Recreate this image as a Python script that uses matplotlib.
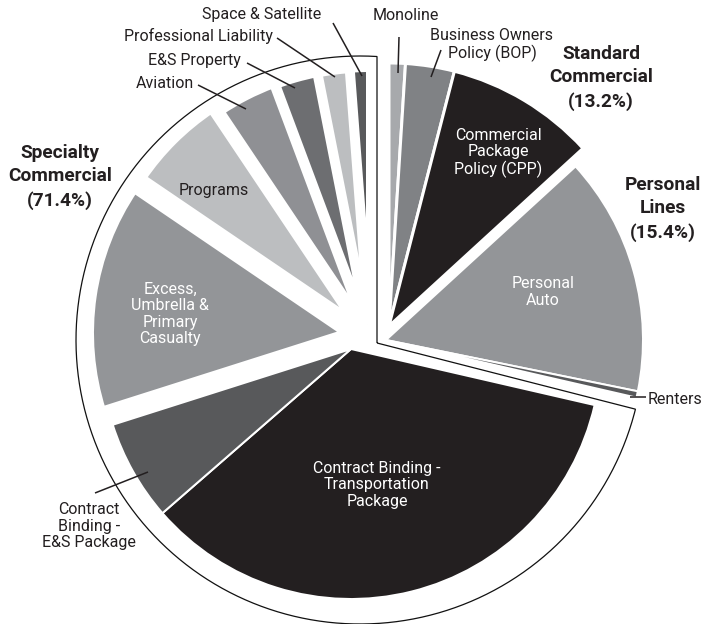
import numpy as np
import matplotlib
matplotlib.use("Agg")
import matplotlib.pyplot as plt
from matplotlib.path import Path
from matplotlib.patches import PathPatch

# ---------------- data ----------------
categories = ["Monoline", "Business Owners Policy (BOP)", "Commercial Package Policy (CPP)",
              "Personal Auto", "Renters",
              "Contract Binding - Transportation Package", "Contract Binding - E&S Package",
              "Excess, Umbrella & Primary Casualty", "Programs", "Aviation", "E&S Property",
              "Professional Liability", "Space & Satellite"]
shares = [1.0, 3.0, 9.2, 15.0, 0.4, 35.0, 6.5, 14.4, 6.1, 3.7, 2.6, 1.9, 1.2]
segment_of = [0, 0, 0, 1, 1, 2, 2, 2, 2, 2, 2, 2, 2]
segment_names = ["Standard\nCommercial", "Personal\nLines", "Specialty\nCommercial"]
segment_totals = [13.2, 15.4, 71.4]

# ---------------- style ----------------
W, H = 707, 624
DARK = "#231f20"
colors = ["#a7a9ac", "#808285", DARK, "#939598", "#58595b", DARK, "#58595b",
          "#939598", "#bcbec0", "#8f9094", "#6d6e71", "#bcbec0", "#58595b"]
# per-wedge offsets (image px) from the pie pivot, radii and white gap widths (px)
offsets = [(19, -12), (19, -12), (19, -12), (16, 2), (16, 2), (-19, 11), (-19, 11),
           (-24, -5), (-16, -16), (-7, -14), (-4, -13.5), (-2, -13.5), (0, -14)]
radii = [263, 263, 263, 257, 257, 250, 250, 256, 256, 256, 256, 256, 256]
gaps = [3, 3, 3, 2, 2, 2, 2, 8, 8, 8, 8, 8, 8]
PIVOT = (370, 338)

REG = ["Roboto", "DejaVu Sans"]
FS = 11.5
FSB = 13.8


def D(x, y):
    """image pixel coords -> data coords"""
    return (x, H - y)


fig = plt.figure(figsize=(W / 100, H / 100), dpi=100)
ax = fig.add_axes([0, 0, 1, 1])

wedges, _ = ax.pie(shares, colors=colors, startangle=90, counterclock=False,
                   radius=256, center=D(*PIVOT),
                   wedgeprops=dict(edgecolor="white", linewidth=1.0))
px2pt = 72 / 100
for w, (dx, dy), r, g in zip(wedges, offsets, radii, gaps):
    w.set_center(D(PIVOT[0] + dx, PIVOT[1] + dy))
    w.set_radius(r)
    w.set_linewidth(g * px2pt)
    w.set_joinstyle("miter")

ax.set_xlim(0, W)
ax.set_ylim(0, H)
ax.set_aspect("equal")
ax.axis("off")

# ---------- outline around the specialty segment ----------
O = np.array(D(360, 340))
RO = 284
corner = np.array(D(377, 343))
theta_s = 90 - 360 * sum(s for s, g in zip(shares, segment_of) if g < 2) / sum(shares)
phi = np.radians(theta_s - 1.4)
d = np.array([np.cos(phi), np.sin(phi)])
f = corner - O
b = np.dot(f, d)
c = np.dot(f, f) - RO ** 2
t = -b + np.sqrt(b * b - c)
p_low = corner + t * d
top_y = O[1] + np.sqrt(RO ** 2 - (corner[0] - O[0]) ** 2)
p_top = np.array([corner[0], top_y])
a_top = np.arctan2(p_top[1] - O[1], p_top[0] - O[0])
a_low = np.arctan2(p_low[1] - O[1], p_low[0] - O[0]) + 2 * np.pi
angs = np.linspace(a_top, a_low, 300)
arc = np.column_stack([O[0] + RO * np.cos(angs), O[1] + RO * np.sin(angs)])
pts = np.vstack([corner, p_top, arc, p_low, corner])
ax.add_patch(PathPatch(Path(pts), facecolor="none", edgecolor="#111111", lw=0.9))

# ---------- segment labels ----------
seg_pos = [(601, 78), (663, 209), (60, 177)]
for name, tot, (x, y) in zip(segment_names, segment_totals, seg_pos):
    ax.text(*D(x, y), f"{name}\n({tot:.1f}%)", ha="center", va="center",
            fontsize=FSB, fontweight="bold", family=REG, color=DARK,
            linespacing=1.38)

# ---------- inside labels ----------
inside = {
    2: ("Commercial\nPackage\nPolicy (CPP)", (498, 153), "white"),
    3: ("Personal\nAuto", (543, 292), "white"),
    5: ("Contract Binding -\nTransportation\nPackage", (377, 485), "white"),
    7: ("Excess,\nUmbrella &\nPrimary\nCasualty", (170, 314), "white"),
    8: ("Programs", (214, 191), DARK),
}
for i, (txt, (x, y), col) in inside.items():
    ax.text(*D(x, y), txt, ha="center", va="center", fontsize=FS, family=REG,
            color=col, linespacing=1.13)

# ---------- outside labels with leaders ----------
outside = [
    (0, "Monoline", (406, 16), [(399, 37), (398, 73)]),
    (1, "Business Owners\nPolicy (BOP)", (492, 45), [(441, 50), (431, 77)]),
    (12, "Space & Satellite", (262, 15), [(333, 23), (362, 76)]),
    (11, "Professional Liability", (198, 36), [(277, 38), (335, 77)]),
    (10, "E&S Property", (194, 61), [(247, 63), (295, 88)]),
    (9, "Aviation", (165, 83), [(198, 85), (246, 109)]),
    (6, "Contract\nBinding -\nE&S Package", (89, 526), [(95, 493), (148, 472)]),
    (4, "Renters", (675, 399), [(630, 397), (646, 397)]),
]
for i, txt, (x, y), line in outside:
    ax.text(*D(x, y), txt, ha="center", va="center", fontsize=FS, family=REG,
            color=DARK, linespacing=1.13)
    xs = [p[0] for p in line]
    ys = [H - p[1] for p in line]
    ax.plot(xs, ys, color=DARK, lw=1.1, solid_capstyle="butt")

fig.savefig("out.png", dpi=100, facecolor="white")
